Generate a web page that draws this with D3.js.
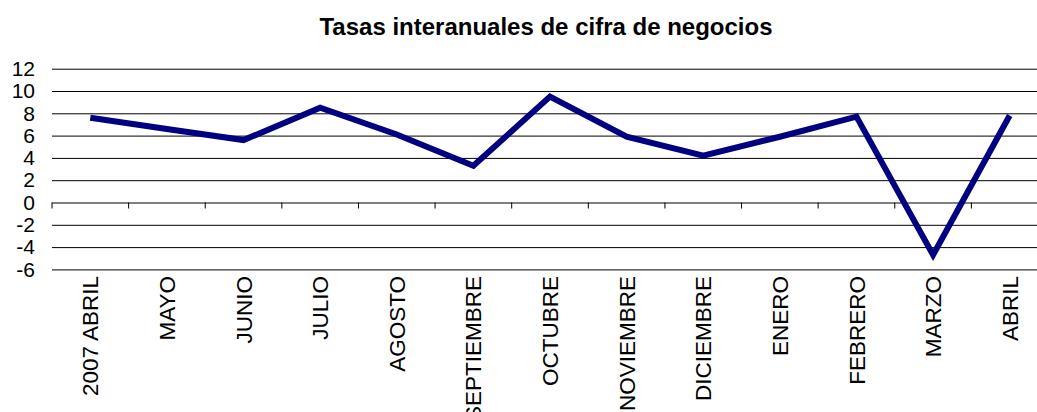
<!DOCTYPE html>
<html lang="es">
  <head>
    <meta charset="utf-8">
    <title>Tasas interanuales de cifra de negocios</title>
    <style>
      body { margin: 0; background: #fff; }
      svg { display: block; font-family: Arial, 'Liberation Sans', sans-serif; }
    </style>
  </head>
  <body>
    <svg width="1037" height="412"></svg>
    <script src="https://cdn.jsdelivr.net/npm/d3@7"></script>
    <script>
      // data
      const categories = ['2007 ABRIL', 'MAYO', 'JUNIO', 'JULIO', 'AGOSTO', 'SEPTIEMBRE',
        'OCTUBRE', 'NOVIEMBRE', 'DICIEMBRE', 'ENERO', 'FEBRERO', 'MARZO', 'ABRIL'];
      const tasas = [7.6, 6.6, 5.6, 8.5, 6.1, 3.3, 9.5, 5.9, 4.2, 5.9, 7.7, -4.7, 7.8];
      const y_ticks = [-6, -4, -2, 0, 2, 4, 6, 8, 10, 12];
      const title = 'Tasas interanuales de cifra de negocios';

      const svg = d3.select('svg');
      const svg_width = +svg.attr('width');

      // plot area (runs past the right edge, like the cropped original)
      const plot = {left: 52, right: 1048, top: 68.7, bottom: 269.4};

      const x_scale = d3.scaleBand()
        .domain(categories)
        .range([plot.left, plot.right])
        .padding(0);

      const y_scale = d3.scaleLinear()
        .domain([d3.min(y_ticks), d3.max(y_ticks)])
        .range([plot.bottom, plot.top]);

      // title
      svg.append('text')
        .attr('x', 546)
        .attr('y', 35)
        .attr('text-anchor', 'middle')
        .attr('font-size', '24px')
        .attr('font-weight', 'bold')
        .attr('fill', '#000')
        .text(title);

      // y axis: labels + horizontal gridlines
      const y_axis_g = svg.append('g')
        .attr('transform', `translate(${plot.left},0)`)
        .call(d3.axisLeft(y_scale)
          .tickValues(y_ticks)
          .tickSize(-(svg_width - plot.left))
          .tickPadding(17)
          .tickFormat(d => String(d)));  // plain hyphen minus, as in the original
      y_axis_g.select('.domain').remove();
      y_axis_g.selectAll('.tick line')
        .attr('stroke', '#000')
        .attr('stroke-width', 1);
      y_axis_g.selectAll('.tick text')
        .attr('font-size', '21px')
        .attr('font-family', 'Arial, Liberation Sans, sans-serif')
        .attr('fill', '#000');

      // category axis on the zero line, ticks between categories
      const y0 = y_scale(0);
      const x_axis_g = svg.append('g').attr('id', 'x_axis_g');
      x_axis_g.selectAll('line')
        .data(d3.range(categories.length + 1))
        .enter()
        .append('line')
          .attr('x1', i => plot.left + i * x_scale.step())
          .attr('x2', i => plot.left + i * x_scale.step())
          .attr('y1', y0)
          .attr('y2', y0 + 6)
          .attr('stroke', '#000')
          .attr('stroke-width', 1);

      // rotated category labels, top-aligned under the plot
      const label_top = 276;
      x_axis_g.selectAll('text')
        .data(categories)
        .enter()
        .append('text')
          .attr('transform', d => `translate(${x_scale(d) + x_scale.bandwidth() / 2},${label_top}) rotate(-90)`)
          .attr('dy', '0.36em')
          .attr('text-anchor', 'end')
          .attr('font-size', '22.5px')
          .attr('fill', '#000')
          .text(d => d);

      // the series line
      const line_gen = d3.line()
        .x((d, i) => x_scale(categories[i]) + x_scale.bandwidth() / 2)
        .y(d => y_scale(d));

      svg.append('path')
        .datum(tasas)
        .attr('d', line_gen)
        .attr('fill', 'none')
        .attr('stroke', '#000080')
        .attr('stroke-width', 6)
        .attr('stroke-linejoin', 'miter');
    </script>
  </body>
</html>
